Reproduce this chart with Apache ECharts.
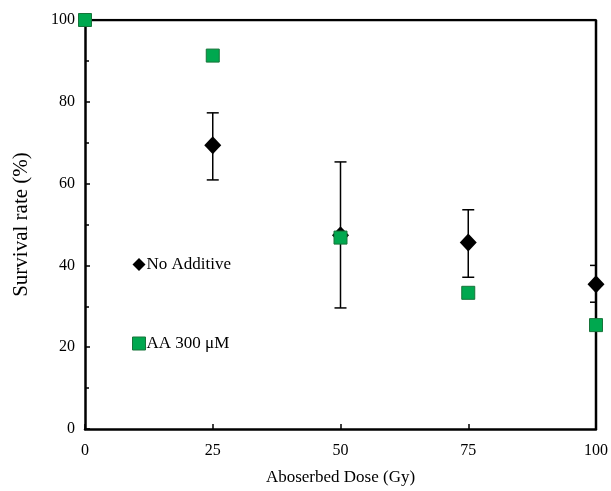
<!DOCTYPE html>
<html>
<head>
<meta charset="utf-8">
<script src="https://cdn.jsdelivr.net/npm/echarts@6/dist/echarts.min.js"></script>
<style>
html,body{margin:0;padding:0;background:#fff;}
#main{width:611px;height:491px;}
</style>
</head>
<body>
<div id="main"></div>
<script>
var doses = [0, 25, 50, 75, 100];
var noAdditive = [100, 69.4, 47.4, 45.6, 35.4];
var noAdditiveLow = [100, 60.9, 29.6, 37.1, 31.0];
var noAdditiveHigh = [100, 77.3, 65.3, 53.6, 40.0];
var aa300 = [100, 91.3, 46.8, 33.3, 25.4];

var font = 'Liberation Serif, Times New Roman, serif';
var green = '#00a84f';

var chart = echarts.init(document.getElementById('main'));

var errData = doses.map(function (d, i) {
    return [d, noAdditiveLow[i], noAdditiveHigh[i]];
});

var option = {
    backgroundColor: '#fff',
    animation: false,
    grid: { left: 85, right: 14, top: 20, bottom: 60 },
    legend: {
        orient: 'vertical',
        left: 127,
        top: 251,
        itemGap: 62,
        itemWidth: 13,
        itemHeight: 13,
        textStyle: { fontFamily: font, fontSize: 17, color: '#000', padding: [0, 0, 0, -4] },
        data: [
            { name: 'No Additive', icon: 'diamond', itemStyle: { color: '#000' } },
            { name: 'AA 300 μM', icon: 'rect', itemStyle: { color: green, borderColor: '#17743a', borderWidth: 1 } }
        ]
    },
    xAxis: {
        type: 'value',
        min: 0,
        max: 100,
        interval: 25,
        name: 'Aboserbed Dose (Gy)',
        nameLocation: 'middle',
        nameGap: 40,
        nameTextStyle: { fontFamily: font, fontSize: 17, color: '#000' },
        axisLine: { show: true, lineStyle: { color: '#000', width: 2.5 } },
        axisTick: { show: true, inside: true, length: 5, lineStyle: { color: '#000', width: 1.5 } },
        axisLabel: { fontFamily: font, fontSize: 16, color: '#000', margin: 14 },
        splitLine: { show: false }
    },
    yAxis: {
        type: 'value',
        min: 0,
        max: 100,
        interval: 20,
        name: 'Survival rate (%)',
        nameLocation: 'middle',
        nameGap: 53,
        nameTextStyle: { fontFamily: font, fontSize: 21, color: '#000' },
        axisLine: { show: true, lineStyle: { color: '#000', width: 2.5 } },
        axisTick: { show: true, inside: true, length: 5, lineStyle: { color: '#000', width: 1.5 } },
        minorTick: { show: true, splitNumber: 2, length: 4, lineStyle: { color: '#000', width: 1.5 } },
        axisLabel: { fontFamily: font, fontSize: 16, color: '#000', margin: 10 },
        splitLine: { show: false }
    },
    series: [
        {
            // frame on top and right
            type: 'line',
            silent: true,
            symbol: 'none',
            data: [[0, 100], [100, 100], [100, 0]],
            lineStyle: { color: '#000', width: 2.5 },
            z: 1
        },
        {
            name: 'errorbars',
            type: 'custom',
            clip: true,
            data: errData,
            renderItem: function (params, api) {
                var x = api.value(0);
                var lo = api.coord([x, api.value(1)]);
                var hi = api.coord([x, api.value(2)]);
                var w = 6;
                var style = { stroke: '#000', lineWidth: 1.5 };
                return {
                    type: 'group',
                    children: [
                        { type: 'line', shape: { x1: lo[0], y1: lo[1], x2: hi[0], y2: hi[1] }, style: style },
                        { type: 'line', shape: { x1: lo[0] - w, y1: lo[1], x2: lo[0] + w, y2: lo[1] }, style: style },
                        { type: 'line', shape: { x1: hi[0] - w, y1: hi[1], x2: hi[0] + w, y2: hi[1] }, style: style }
                    ]
                };
            },
            z: 2
        },
        {
            name: 'No Additive',
            type: 'scatter',
            clip: false,
            symbol: 'diamond',
            symbolSize: [17, 18],
            itemStyle: { color: '#000', opacity: 1 },
            data: doses.map(function (d, i) {
                // the point at 0 Gy sits hidden under the green square
                return i === 0 ? { value: [d, noAdditive[i]], symbolSize: 12 } : [d, noAdditive[i]];
            }),
            z: 3
        },
        {
            name: 'AA 300 μM',
            type: 'scatter',
            clip: false,
            symbol: 'rect',
            symbolSize: 13,
            itemStyle: { color: green, borderColor: '#17743a', borderWidth: 1, opacity: 1 },
            data: doses.map(function (d, i) { return [d, aa300[i]]; }),
            z: 4
        }
    ]
};

chart.setOption(option);
</script>
</body>
</html>
